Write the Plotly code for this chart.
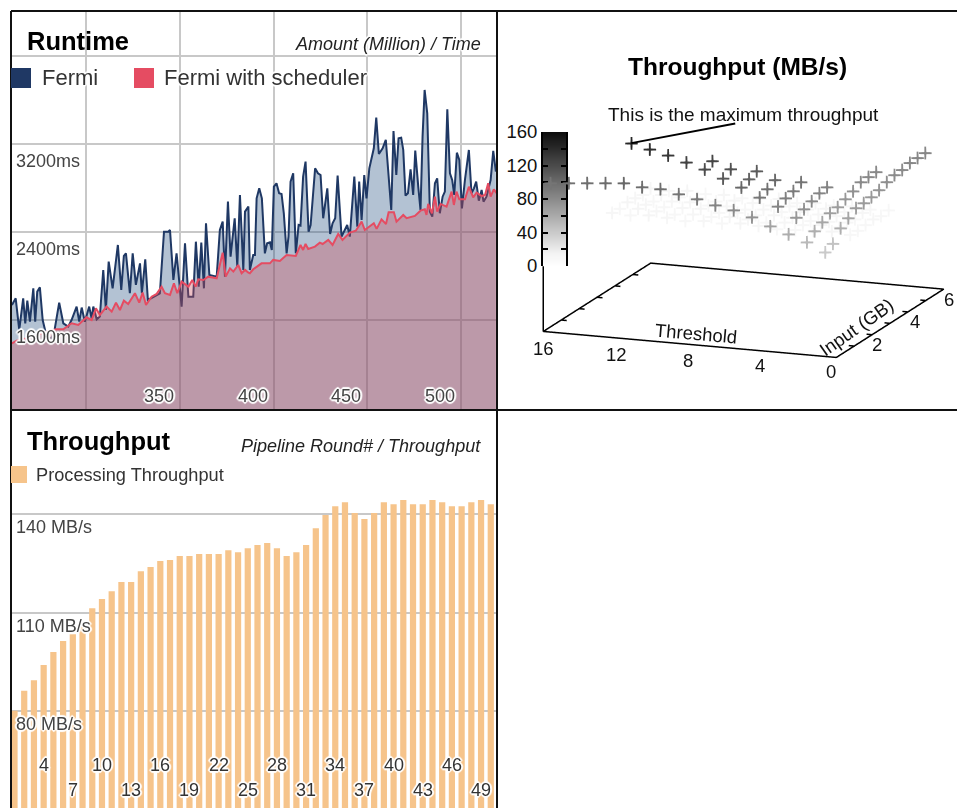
import plotly.graph_objects as go

W, H = 957, 808
FONT = "Liberation Sans"
NAVY = "#1f3864"
PINK = "#e54c62"
ORANGE = "#f6c48b"
GRID = "#c8c8c8"
HALO = ("2px 0 1px #fff, -2px 0 1px #fff, 0 2px 1px #fff, 0 -2px 1px #fff, "
        "1px 1px 1px #fff, -1px -1px 1px #fff, 1px -1px 1px #fff, -1px 1px 1px #fff")

# ---------- Runtime data ----------
fermi_amount = [260.5,262.5,264.4,266.5,267.6,268.7,270.1,271.9,272.9,274,275.4,276.9,279,281.7,283.4,285.7,287.9,290.5,292.3,295,296.4,297.7,299.4,301.7,303,303.9,305.7,307.4,309.2,310.6,312.1,314.2,317,318.8,320.2,321.3,323.4,324.9,326.6,328.8,329.8,331.6,333,335.9,339.4,341.6,343.9,344.8,346.6,348.3,351,352.8,354.6,357.2,358.6,360.1,361.5,362.9,364,365.8,369.7,371.4,372.9,374.1,375.7,377.1,379.3,380.7,382.1,383.9,384.8,386.6,387.4,389.2,390.1,391,392.4,393.8,395.4,396.6,398.1,399.1,400.2,401.6,403,404.3,405.5,407,408,409.1,410.5,411.9,413.4,414.4,415.8,417.1,418.7,419.8,422.2,423.7,425.1,426.5,428.7,430.2,431.5,432.9,434.2,436.3,438.1,439.3,440.7,443.1,444.7,445.7,447,448.4,449.6,451.1,453.5,454.8,456.2,458.2,459.9,462.8,464,465.5,466.7,468.1,469.2,470.4,471.7,473.1,474.5,475.6,477.2,478.4,479.5,480.6,482,483.4,484.7,486.1,487.3,488.7,490.2,491.4,492.7,494.1,495.3,496.4,497.8,499.1,500.5,502.1,504.2,505.6,506.9,508.1,509.5,511,512,513.6,515.8,517.2,518.6]
fermi_ms = [1737,1797,1510,1797,1570,1776,1585,1888,1585,1858,1897,1600,1449,1434,1525,1758,1570,1540,1600,1722,1585,1713,1585,1722,1615,1722,1606,1631,2055,1691,2131,1888,2282,1873,2182,2206,1843,2206,1919,2115,1843,2152,1782,1812,1843,2403,2403,2418,1964,2206,1722,2297,1812,1812,2312,1903,2303,1888,2479,2009,1994,2418,2494,1994,2676,2176,2525,2085,2737,2055,2585,2631,2055,2191,2191,2706,2797,2706,2206,2297,2306,2237,2812,2843,2752,2746,2570,2206,2358,2858,2934,2206,2464,2458,2903,3040,2403,2464,2979,2934,2918,2525,2797,2382,2479,2525,2912,2358,2418,2464,2358,2903,2449,2858,2509,2918,2706,2979,3161,3440,3109,3161,3237,2600,3318,2918,3252,3258,3146,2731,2752,2970,2737,3140,2812,2600,3267,3691,3479,2585,2540,2843,2888,2570,2721,2767,3515,2934,2873,2737,3121,3055,2615,2873,3146,2752,2797,2858,2685,2782,2676,2721,2873,3137,2949]
sched_amount = [260.5,263,271.9,279,284.3,287.9,292.3,295.9,300.3,303,305.3,307.4,311,313.7,316,318.1,320.2,322.5,326.1,328.4,330.2,332,335,337.7,340.3,342.1,344.8,346.9,348.7,351,354.6,356.7,358.5,359.9,362.6,365.2,369.7,372.9,374.5,376.8,378.6,381.2,383,384.8,386.6,387.4,389.2,393.6,398.1,399.8,403.4,407,411.9,414.4,415.8,417.1,418.5,422.1,424.7,426.2,429.2,431.5,434.5,436.8,440.7,443.9,447,448.7,453.5,455,457.6,460,461.4,464.2,465.6,469.2,471,475.4,478.4,480.7,481.6,482.5,484.5,486.1,487.3,489.1,492.3,495,496.2,497.6,499.1,502.1,504.2,506.5,508.3,511,512.8,514.5,515.8,517.5,519]
sched_ms = [1388,1413,1449,1494,1516,1516,1570,1555,1625,1600,1706,1646,1722,1676,1758,1691,1776,1746,1843,1758,1849,1737,1812,1837,1903,1843,1828,1934,1843,1949,1903,1964,1903,1970,1964,1994,1979,2212,1994,2070,2040,2100,2025,2055,2031,2025,2061,2115,2115,2146,2137,2191,2182,2282,2237,2291,2246,2267,2303,2291,2328,2282,2382,2328,2394,2412,2494,2418,2479,2428,2515,2473,2579,2579,2494,2555,2525,2546,2594,2606,2555,2655,2570,2721,2585,2655,2631,2767,2646,2767,2697,2697,2812,2715,2758,2727,2737,2843,2721,2788,2752]
runtime_y_ticks = [800, 1600, 2400, 3200, 4000]
runtime_y_labels = {1600: "1600ms", 2400: "2400ms", 3200: "3200ms"}
runtime_x_ticks = [300, 350, 400, 450, 500]
runtime_x_labels = {350: "350", 400: "400", 450: "450", 500: "500"}

# ---------- Pipeline throughput data ----------
rounds = list(range(1, 51))
processing_mbs = [80.1,86.2,89.4,94.0,98.0,101.3,103.4,107.0,111.3,114.1,116.5,119.3,119.3,122.6,123.9,125.7,126.0,127.2,127.2,127.8,127.8,127.8,129.0,128.4,129.6,130.6,131.2,129.6,127.2,128.4,130.6,135.7,139.7,142.4,143.6,140.3,138.5,140.3,143.6,143.0,144.3,143.0,143.0,144.3,143.6,142.4,142.4,143.6,144.3,143.0]
throughput_y_ticks = [80, 110, 140]
round_labels_upper = [4, 10, 16, 22, 28, 34, 40, 46]
round_labels_lower = [7, 13, 19, 25, 31, 37, 43, 49]

# ---------- 3D throughput surface data ----------
thresholds = [16,15,14,13,12,11,10,9,8,7,6,5,4,3,2,1]
N = None
input_0_39 = [93.8,95.8,97.8,99.7,101.6,98.8,98.4,94.3,90.3,85,81,74.6,65.8,58.2,50.6,40.6]
input_0_82 = [N,N,N,N,143.2,137.9,132.7,126.3,119.9,111,102.3,92.3,83.5,72.2,58,45]
input_1_25 = [N,N,N,N,N,N,N,N,124,116.3,106.3,96.4,87.5,76.4,62.8,57.6]
input_1_68 = [N,N,N,N,N,N,N,N,N,N,110,101.4,90.1,80.1,67.8,63.8]
input_2_11 = [N,N,N,N,N,N,N,N,N,N,N,N,95,83.8,69.1,69.9]
input_2_54 = [N,N,N,N,N,N,N,N,N,N,N,N,N,85.1,72.8,70]
input_2_97 = [N,N,N,N,N,N,N,N,N,N,N,N,N,N,76.4,71.3]
input_3_40 = [N,N,N,N,N,N,N,N,N,N,N,N,N,N,81.4,73.9]
input_3_83 = [12,11,13,12,10,12,11,13,12,10,11,12,13,11,81.7,77.6]
input_4_26 = [11,13,12,10,12,11,13,12,10,12,11,13,12,10,81.8,80.1]
input_4_69 = [13,12,11,12,13,10,12,11,13,12,10,11,12,11,N,80.4]
input_5_12 = [12,10,12,13,11,12,10,12,11,13,12,12,10,12,N,82.9]
input_5_55 = [10,12,11,12,10,13,12,11,12,10,13,11,12,10,N,83]
input_5_98 = [12,11,13,11,12,10,11,13,10,12,11,12,10,11,N,83.1]
surface_rows = {0.39: input_0_39, 0.82: input_0_82, 1.25: input_1_25, 1.68: input_1_68, 2.11: input_2_11,
                2.54: input_2_54, 2.97: input_2_97, 3.40: input_3_40, 3.83: input_3_83, 4.26: input_4_26,
                4.69: input_4_69, 5.12: input_5_12, 5.55: input_5_55, 5.98: input_5_98}
palette_levels = list(range(0, 165, 5))
palette_ticks = [0, 20, 40, 60, 80, 100, 120, 140, 160]
palette_labels = ["0", "", "40", "", "80", "", "120", "", "160"]
GRAYS = [[0, "#ffffff"], [0.09, "#f4f4f4"], [1, "#0c0c0c"]]


def gray_of(v):
    f = v / 160
    g = 255 - f / 0.09 * 11 if f < 0.09 else 244 - (f - 0.09) / 0.91 * 232
    g = int(round(g))
    return f"rgb({g},{g},{g})"


px = lambda x: x / W
py = lambda y: 1 - y / H

fig = go.Figure()
fig.add_trace(go.Scatter(x=fermi_amount, y=fermi_ms, name="Fermi", mode="lines",
                         line=dict(color=NAVY, width=2), fill="tozeroy",
                         fillcolor="rgba(31,77,125,0.34)", xaxis="x", yaxis="y"))
fig.add_trace(go.Scatter(x=sched_amount, y=sched_ms, name="Fermi with scheduler", mode="lines",
                         line=dict(color=PINK, width=2), fill="tozeroy",
                         fillcolor="rgba(205,78,91,0.35)", xaxis="x", yaxis="y"))
fig.add_trace(go.Bar(x=rounds, y=processing_mbs, name="Processing Throughput",
                     marker=dict(color=ORANGE, line=dict(width=0)), xaxis="x2", yaxis="y2"))
fig.add_trace(go.Heatmap(x=[0], y=palette_levels, z=[[v] for v in palette_levels], zmin=0, zmax=160,
                         colorscale=GRAYS, showscale=False, zsmooth="best", xaxis="x3", yaxis="y3"))

pt, pi, pz = [], [], []
for inp, row in surface_rows.items():
    for t, v in zip(thresholds, row):
        if v is not None:
            pt.append(t); pi.append(inp); pz.append(v)
fig.add_trace(go.Scatter3d(x=pt, y=pi, z=pz, mode="text", name="Throughput (MB/s)", text=["+"] * len(pz),
                           textposition="middle center",
                           textfont=dict(size=26, color=[gray_of(v) for v in pz], family=FONT),
                           scene="scene"))

# floor of the 3D box, raised axis and tick marks
Z_FLOOR = -77.6
fx = [16, 0, 0, 16, 16, 16, N]
fy = [0, 0, 6, 6, 0, 0, N]
fz = [Z_FLOOR, Z_FLOOR, Z_FLOOR, Z_FLOOR, Z_FLOOR, 0, N]
for g in [1, 2, 3, 4, 5]:
    fx += [16, 15.7, N, 0, 0.3, N]
    fy += [g, g, N, g, g, N]
    fz += [Z_FLOOR, Z_FLOOR, N, Z_FLOOR, Z_FLOOR, N]
fig.add_trace(go.Scatter3d(x=fx, y=fy, z=fz, mode="lines", line=dict(color="#000", width=3),
                           connectgaps=False, showlegend=False, hoverinfo="skip", scene="scene"))


def note(text, x, y, size=18, color="#444", anchor="left", halo=False, bold=False, italic=False, xref="paper", yref="paper", **kw):
    font = dict(family=FONT, size=size, color=color)
    if halo:
        font["shadow"] = HALO
    if bold:
        font["weight"] = "bold"
    if italic:
        font["style"] = "italic"
    return dict(text=text, x=x, y=y, xref=xref, yref=yref, xanchor=anchor, yanchor="middle",
                showarrow=False, font=font, **kw)


anns = [
    note("Runtime", px(25), py(41), 25.5, "#000", bold=True),
    note("Amount (Million) / Time", px(483), py(44), 18, "#222", "right", italic=True, halo=True),
    note("Fermi", px(40), py(78), 22, "#333", halo=True),
    note("Fermi with scheduler", px(162), py(78), 22, "#333", halo=True),
    note("Throughput", px(25), py(441), 25.5, "#000", bold=True),
    note("Pipeline Round# / Throughput", px(483), py(446), 18, "#222", "right", italic=True),
    note("Processing Throughput", px(34), py(475), 18.2, "#333"),
    note("Throughput (MB/s)", px(737), py(67), 24.5, "#000", "center", bold=True),
    note("This is the maximum throughput", px(743), py(114), 19, "#111", "center"),
]
for v, s in runtime_y_labels.items():
    anns.append(note(s, px(14), v, 18, "#444", halo=True, yref="y", yshift=-17))
for v, s in runtime_x_labels.items():
    anns.append(note(s, v, py(396), 18, "#444", "right", halo=True, xref="x", xshift=-4))
for v in throughput_y_ticks:
    anns.append(note(f"{v} MB/s", px(14), v, 18, "#444", halo=True, yref="y2", yshift=-13))
for v in round_labels_upper:
    anns.append(note(str(v), v, py(765), 18, "#333", "center", halo=True, xref="x2"))
for v in round_labels_lower:
    anns.append(note(str(v), v, py(790), 18, "#333", "center", halo=True, xref="x2"))


def snote(text, x, y, xs=0, ys=0, angle=0):
    return dict(text=text, x=x, y=y, z=Z_FLOOR, xshift=xs, yshift=ys, textangle=angle, showarrow=False,
                xanchor="center", yanchor="middle", font=dict(family=FONT, size=18.5, color="#111"))


scene_notes = [snote(str(t), t, 0, xs, ys) for t, xs, ys in
               [(16, 0, -17), (12, 0, -17), (8, -2, -16), (4, -3, -15), (0, -5, -14)]]
scene_notes += [snote(str(i), 0, i, xs, -10) for i, xs in [(2, 5), (4, 7), (6, 5)]]
scene_notes += [snote("Threshold", 8, 0, 6, 11, 5), snote("Input (GB)", 0, 2, -16, 7, -35)]
scene_notes.append(dict(text=" ", x=12, y=0.82, z=143.2, showarrow=True, arrowhead=0, arrowwidth=2,
                        arrowcolor="#000", ax=106, ay=-20, font=dict(family=FONT, size=4)))

frame = [
    (11, 11, 957, 11), (11, 410, 957, 410), (11, 11, 11, 808), (497, 11, 497, 808),
]
shapes = [dict(type="line", xref="paper", yref="paper", x0=px(a), y0=py(b), x1=px(c), y1=py(d),
               line=dict(color="#111", width=2), layer="above") for a, b, c, d in frame]
for (x0, x1, y0, y1, col) in [(11, 31, 68, 88, NAVY), (134, 154, 68, 88, PINK), (11, 27, 466, 483, ORANGE)]:
    shapes.append(dict(type="rect", xref="paper", yref="paper", x0=px(x0), x1=px(x1), y0=py(y0), y1=py(y1),
                       fillcolor=col, line=dict(width=0), layer="above"))

hidden3d = dict(showgrid=False, showticklabels=False, showline=False, zeroline=False, showbackground=False,
                showspikes=False, ticks="", title=dict(text=""))

fig.update_layout(
    width=W, height=H, margin=dict(l=0, r=0, t=0, b=0, pad=0, autoexpand=False), paper_bgcolor="#fff", plot_bgcolor="rgba(0,0,0,0)",
    showlegend=False, bargap=0.36, annotations=anns, shapes=shapes,
    font=dict(family=FONT),
    xaxis=dict(domain=[px(11), px(497)], range=[260, 519.2], tickvals=runtime_x_ticks, showticklabels=False,
               showgrid=True, gridcolor=GRID, gridwidth=2, zeroline=False, anchor="y", ticks=""),
    yaxis=dict(domain=[py(409), py(11)], range=[791, 4409], tickvals=runtime_y_ticks, showticklabels=False,
               showgrid=True, gridcolor=GRID, gridwidth=2, zeroline=False, anchor="x", ticks=""),
    xaxis2=dict(domain=[px(11), px(497)], range=[0.64, 50.64], showticklabels=False, showgrid=False,
                zeroline=False, anchor="y2", ticks=""),
    yaxis2=dict(domain=[py(808), py(411)], range=[50.46, 171.4], tickvals=throughput_y_ticks, showticklabels=False,
                showgrid=True, gridcolor=GRID, gridwidth=2, zeroline=False, anchor="x2", ticks=""),
    xaxis3=dict(domain=[px(543), px(566)], visible=False, anchor="y3", range=[-0.5, 0.5]),
    yaxis3=dict(domain=[py(266), py(132)], range=[0, 160], anchor="x3", tickvals=palette_ticks, ticktext=palette_labels,
                ticks="inside", ticklen=5, tickwidth=1.5, tickcolor="#000", showline=True, linecolor="#000", linewidth=2,
                mirror="ticks", showgrid=False, zeroline=False, tickfont=dict(family=FONT, size=18.5, color="#111")),
    scene=dict(
        domain=dict(x=[px(530), px(957)], y=[py(411), py(10)]),
        xaxis=dict(range=[16.2, -0.2], **hidden3d),
        yaxis=dict(range=[-0.1, 6.1], **hidden3d),
        zaxis=dict(range=[Z_FLOOR - 2, 162], **hidden3d),
        aspectmode="manual", aspectratio=dict(x=1.599, y=1.581, z=1.042),
        camera=dict(projection=dict(type="orthographic"), up=dict(x=0, y=0, z=1), center=dict(x=0, y=0, z=0),
                    eye=dict(x=1.054, y=-2.821, z=0.737)),
        annotations=scene_notes,
    ),
)

fig.write_html("out.html", config={"displayModeBar": False},
               post_script="document.body.style.margin='0';document.body.style.overflow='hidden';")
